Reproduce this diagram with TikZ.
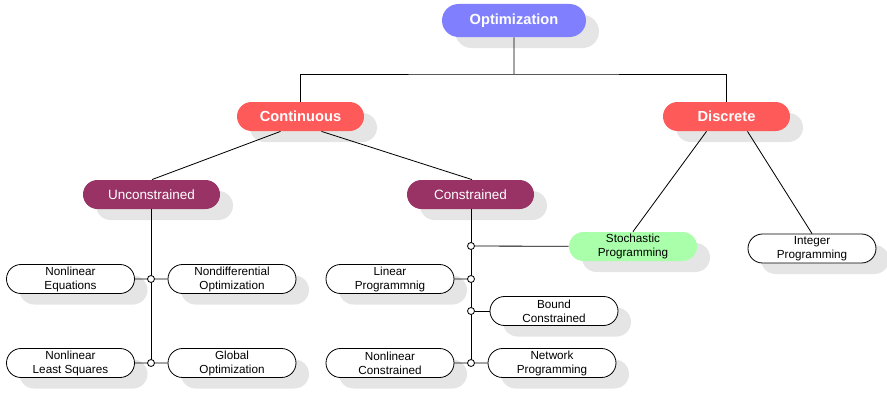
\documentclass[tikz,border=0pt]{standalone}
\usepackage{fontspec}
\setmainfont{Liberation Sans}
\usetikzlibrary{calc,shapes.misc,shadows}
\definecolor{rootblue}{HTML}{8080FF}
\definecolor{catred}{HTML}{FF5A5A}
\definecolor{subplum}{HTML}{993366}
\definecolor{leafgreen}{HTML}{AAFFAA}
\tikzset{
	box/.style={rounded rectangle, inner sep=0pt, align=center,
		drop shadow={shadow xshift=0.39cm, shadow yshift=-0.33cm, fill=black!10, opacity=1}},
	root/.style={box, fill=rootblue, text=white, minimum width=4.32cm, minimum height=0.99cm,
		font=\fontsize{12.5}{14}\selectfont\bfseries},
	cat/.style={box, fill=catred, text=white, minimum width=3.81cm, minimum height=0.87cm,
		font=\fontsize{12.5}{14}\selectfont\bfseries},
	sub/.style={box, fill=subplum, text=white, minimum width=4.11cm, minimum height=0.87cm,
		font=\fontsize{11.5}{13}\selectfont},
	leaf/.style={box, draw, fill=white, minimum width=3.84cm, minimum height=0.87cm,
		font=\fontsize{10}{12}\selectfont},
	junc/.style={circle, draw, fill=white, inner sep=0pt, minimum size=0.21cm}
}
\begin{document}
\begin{tikzpicture}[x=0.03cm, y=-0.03cm, line width=0.7pt]
	\useasboundingbox (0,0) rectangle (887,393);
	\node[root] (opt) at (514,20.5) {Optimization};
	\node[cat] (cont) at (300.5,116.5) {Continuous};
	\node[cat] (disc) at (726.5,116.5) {Discrete};
	\node[sub, minimum width=4.11cm] (uncon) at (151.5,194.5) {Unconstrained};
	\node[sub, minimum width=3.81cm] (cons) at (470.5,194.5) {Constrained};
	\node[leaf, draw=none, fill=leafgreen] (stoch) at (633,246.5) {Stochastic\\Programming};
	\node[leaf] (intp) at (812,248.5) {Integer\\Programming};
	\node[leaf] (neq) at (70.5,279) {Nonlinear\\Equations};
	\node[leaf] (nondiff) at (232,279) {Nondifferential\\Optimization};
	\node[leaf] (nlls) at (70.5,363) {Nonlinear\\Least Squares};
	\node[leaf] (glob) at (232,363) {Global\\Optimization};
	\node[leaf] (linp) at (390,279) {Linear\\Programmnig};
	\node[leaf] (bound) at (554,311) {Bound\\Constrained};
	\node[leaf] (nlcons) at (390,363) {Nonlinear\\Constrained};
	\node[leaf] (netp) at (552,363) {Network\\Programming};
	\coordinate (bus) at (514,74);
	\coordinate (u1) at (151,279);
	\coordinate (u2) at (151,363);
	\coordinate (c1) at (471,246);
	\coordinate (c2) at (471,279);
	\coordinate (c3) at (471,311);
	\coordinate (c4) at (471,363);
	\draw (opt) -- (bus);
	\draw (cont) |- (bus) -| (disc);
	\path
		($(cont.south) + (-20,0)$) edge ($(uncon.north) + (0.5,0)$)
		($(cont.south) + (21,0)$) edge ($(cons.north) + (1.5,0)$)
		($(disc.south) + (-20,0)$) edge (stoch.north)
		($(disc.south) + (21,0)$) edge (intp.north);
	\draw ($(uncon.south) + (-0.5,0)$) -- (u2);
	\draw ($(cons.south) + (0.5,0)$) -- (c4);
	\draw (neq) -- (u1) -- (nondiff);
	\draw (nlls) -- (u2) -- (glob);
	\draw (c1) -- (stoch);
	\draw (linp) -- (c2);
	\draw (c3) -- (bound);
	\draw (nlcons) -- (c4) -- (netp);
	\foreach \j in {u1, u2, c1, c2, c3, c4} \node[junc] at (\j) {};
\end{tikzpicture}
\end{document}
